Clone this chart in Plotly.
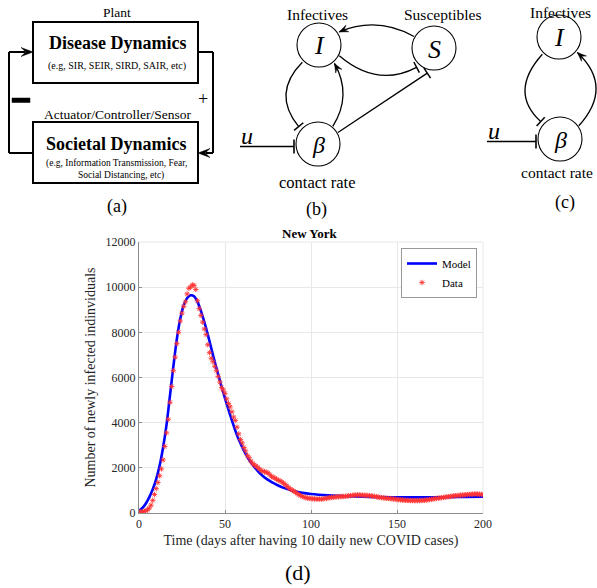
import math
import plotly.graph_objects as go

W, H = 597, 588

# ---------------- data ----------------
days = list(range(0, 201))
cases = [
    60, 40, 50, 80, 100, 140, 220, 350, 560, 820, 1080,
    1350, 1650, 1950, 2350, 2950, 3550, 4150, 4900, 5600, 6300,
    6900, 7500, 8000, 8500, 8850, 9150, 9350, 9700, 9950, 10000,
    10100, 10080, 9900, 9400, 9050, 8750, 8450, 8150, 7900, 7450,
    7100, 6850, 6700, 6500, 6300, 6050, 5800, 5550, 5450, 5300,
    5050, 4850, 4700, 4480, 4250, 4100, 3800, 3500, 3250, 3100,
    2900, 2750, 2550, 2450, 2300, 2200, 2130, 2080, 2020, 1950,
    1880, 1850, 1830, 1800, 1780, 1700, 1620, 1580, 1550, 1500,
    1450, 1420, 1380, 1320, 1260, 1180, 1120, 1060, 1020, 960,
    920, 860, 810, 770, 730, 700, 680, 660, 650, 640,
    630, 625, 620, 615, 620, 615, 625, 640, 650, 670,
    680, 690, 700, 710, 715, 720, 725, 730, 735, 740,
    750, 760, 770, 780, 790, 795, 800, 800, 795, 790,
    785, 780, 775, 765, 755, 745, 735, 720, 705, 690,
    680, 670, 660, 650, 645, 640, 630, 620, 610, 600,
    590, 580, 575, 570, 565, 560, 555, 550, 550, 548,
    548, 550, 552, 555, 560, 565, 575, 585, 595, 610,
    620, 635, 645, 655, 665, 680, 690, 700, 715, 725,
    735, 745, 755, 765, 770, 780, 790, 795, 800, 810,
    815, 820, 830, 835, 840, 845, 840, 830, 820, 810,
]
model_days = [0, 2, 4, 6, 8, 10, 12, 14, 16, 18, 20, 22, 24, 26, 28, 30, 32, 34, 36, 38,
              40, 42, 44, 46, 48, 50, 52, 54, 56, 58, 60, 62, 64, 66, 68, 70, 72, 74, 76, 78,
              80, 85, 90, 95, 100, 110, 120, 130, 140, 150, 160, 170, 180, 190, 200]
model_vals = [100, 220, 420, 700, 1050, 1500, 2100, 2900, 3900, 5200,
              6500, 7700, 8600, 9200, 9520, 9640, 9600, 9350, 8950, 8450,
              7900, 7300, 6700, 6150, 5600, 5080, 4580, 4100, 3650, 3250,
              2920, 2620, 2360, 2140, 1950, 1780, 1640, 1520, 1420, 1330,
              1250, 1090, 970, 890, 840, 780, 745, 720, 705, 695, 690, 695, 705, 715, 725]
x_ticks = [0, 50, 100, 150, 200]
y_ticks = [0, 2000, 4000, 6000, 8000, 10000, 12000]

# ------------- helpers (pixel -> paper) -------------
def px(x):
    return x / W


def py(y):
    return 1 - y / H


shapes = []
annotations = []
SERIF = "Liberation Serif"


def seg(x0, y0, x1, y1, w=1.3):
    shapes.append(dict(type="line", xref="paper", yref="paper", x0=px(x0), y0=py(y0),
                       x1=px(x1), y1=py(y1), line=dict(color="black", width=w)))


def box(x0, y0, x1, y1, w=2, fill=None):
    d = dict(type="rect", xref="paper", yref="paper", x0=px(x0), y0=py(y1),
             x1=px(x1), y1=py(y0), line=dict(color="black", width=w))
    if fill:
        d["fillcolor"] = fill
    shapes.append(d)


def circ(c, r):
    shapes.append(dict(type="circle", xref="paper", yref="paper",
                       x0=px(c[0] - r), x1=px(c[0] + r), y0=py(c[1] + r), y1=py(c[1] - r),
                       line=dict(color="black", width=1.1)))


def on(c, ang, r):
    a = math.radians(ang)
    return (c[0] + r * math.cos(a), c[1] - r * math.sin(a))


def qcurve(p0, c, p1, w=1.3):
    path = "M {},{} Q {},{} {},{}".format(px(p0[0]), py(p0[1]), px(c[0]), py(c[1]),
                                          px(p1[0]), py(p1[1]))
    shapes.append(dict(type="path", xref="paper", yref="paper", path=path,
                       line=dict(color="black", width=w)))


def unit(tip, frm):
    dx, dy = tip[0] - frm[0], tip[1] - frm[1]
    n = math.hypot(dx, dy)
    return dx / n, dy / n


def head(tip, frm, L=9, hw=3.6):
    ux, uy = unit(tip, frm)
    nx, ny = -uy, ux
    b1 = (tip[0] - L * ux + hw * nx, tip[1] - L * uy + hw * ny)
    b2 = (tip[0] - L * ux - hw * nx, tip[1] - L * uy - hw * ny)
    nt = (tip[0] - 0.6 * L * ux, tip[1] - 0.6 * L * uy)
    pts = [tip, b1, nt, b2]
    path = "M " + " L ".join("{},{}".format(px(p[0]), py(p[1])) for p in pts) + " Z"
    shapes.append(dict(type="path", xref="paper", yref="paper", path=path,
                       fillcolor="black", line=dict(color="black", width=0.5)))


def tbar(tip, frm, half=6, w=1.5):
    ux, uy = unit(tip, frm)
    nx, ny = -uy, ux
    seg(tip[0] + half * nx, tip[1] + half * ny, tip[0] - half * nx, tip[1] - half * ny, w)


def text(x, y, s, size, bold=False, italic=False, color="black", family=SERIF):
    if bold:
        s = "<b>" + s + "</b>"
    if italic:
        s = "<i>" + s + "</i>"
    annotations.append(dict(x=px(x), y=py(y), xref="paper", yref="paper", text=s,
                            showarrow=False, xanchor="center", yanchor="middle",
                            font=dict(family=family, size=size, color=color)))


# ---------------- diagram (a) ----------------
box(33, 22, 198, 83)
box(33, 122, 198, 183)
seg(33, 153, 9, 153, 2)
seg(9, 153, 9, 52, 2)
seg(9, 52, 25, 52, 2)
head((33, 52), (9, 52), L=12, hw=4.5)
seg(198, 52, 213, 52, 2)
seg(213, 52, 213, 153, 2)
seg(213, 153, 206, 153, 2)
head((198, 153), (213, 153), L=12, hw=4.5)
box(12, 98, 30, 102.5, w=0.5, fill="black")
text(117, 12, "Plant", 13.5)
text(118, 43, "Disease Dynamics", 18, bold=True)
text(117, 66, "(e.g, SIR, SEIR, SIRD, SAIR, etc)", 10)
text(117, 115, "Actuator/Controller/Sensor", 13.5)
text(116, 144, "Societal Dynamics", 18, bold=True)
text(116, 163, "(e.g, Information Transmission, Fear,", 9.5)
text(121, 175, "Social Distancing, etc)", 9.5)
text(203, 99, "+", 18)
text(117, 206, "(a)", 18)

# ---------------- diagram (b) ----------------
Ib, Sb, Bb = (319, 45), (434, 48), (318, 144)
R = 22
for c in (Ib, Sb, Bb):
    circ(c, R)
text(Ib[0], Ib[1] + 1, "I", 26, italic=True)
text(Sb[0], Sb[1] + 1, "S", 26, italic=True)
text(Bb[0], Bb[1] + 1, "β", 24, italic=True)
text(317, 14, "Infectives", 15.5)
text(443, 14, "Susceptibles", 15.5)
text(317, 182, "contact rate", 16.5)
text(316, 209, "(b)", 18)
# S -> I (top)
p0, cc, p1 = on(Sb, 150, R + 1), (377, 16), on(Ib, 33, R + 2)
qcurve(p0, cc, p1)
head(p1, cc)
# I -| S (bottom)
p0, cc, p1 = on(Ib, -28, R + 1), (377, 88), on(Sb, -132, R + 4)
qcurve(p0, cc, p1)
tbar(p1, cc)
# beta -| S (straight)
p0, p1 = on(Bb, 30, R + 1), on(Sb, -105, R + 4)
seg(p0[0], p0[1], p1[0], p1[1])
tbar(p1, p0)
# I -| beta (left arc)
p0, cc, p1 = on(Ib, 226, R + 2), (271.5, 93.6), on(Bb, 138, R + 4)
qcurve(p0, cc, p1)
tbar(p1, cc)
# beta -> I (right arc)
p0, cc, p1 = on(Bb, 50, R + 1), (352.4, 95.1), on(Ib, -50, R + 2)
qcurve(p0, cc, p1)
head(p1, cc)
# u -| beta
seg(240, 146.5, 294, 146.5, 1.6)
seg(294, 139.5, 294, 153.5, 1.6)
text(247, 136, "u", 24, italic=True)

# ---------------- diagram (c) ----------------
Ic, Bc = (559, 37), (560, 139)
circ(Ic, R)
circ(Bc, R)
text(Ic[0], Ic[1] + 1, "I", 26, italic=True)
text(Bc[0], Bc[1] + 1, "β", 24, italic=True)
text(560, 13, "Infectives", 15.5)
text(557, 172, "contact rate", 15.5)
text(565, 202, "(c)", 18)
p0, cc, p1 = on(Ic, 226, R + 2), (508.5, 92), on(Bc, 138, R + 4)
qcurve(p0, cc, p1)
tbar(p1, cc)
p0, cc, p1 = on(Bc, 35, R + 1), (614, 87), on(Ic, -40, R + 2)
qcurve(p0, cc, p1)
head(p1, cc)
seg(487, 141.5, 536, 141.5, 1.6)
seg(536, 134.5, 536, 148.5, 1.6)
text(494, 131, "u", 24, italic=True)

# ---------------- chart (d) ----------------
PL, PR, PT, PB = 139, 483, 242, 513
text(310, 233, "New York", 13, bold=True)
text(298, 572, "(d)", 22)
shapes.append(dict(type="line", xref="paper", yref="paper", x0=px(PL), x1=px(PR),
                   y0=py(PT), y1=py(PT), line=dict(color="#e8e8e8", width=1), layer="below"))
shapes.append(dict(type="line", xref="paper", yref="paper", x0=px(PR), x1=px(PR),
                   y0=py(PT), y1=py(PB), line=dict(color="#e8e8e8", width=1), layer="below"))

fig = go.Figure()
fig.add_trace(go.Scatter(x=model_days, y=model_vals, mode="lines", name="Model",
                         line=dict(color="#0000ff", width=2.6, shape="spline", smoothing=0.8)))
fig.add_trace(go.Scatter(x=days, y=cases, mode="markers", name="Data",
                         marker=dict(symbol="asterisk-open", size=4.5, color="#ff3333",
                                     line=dict(color="#ff3333", width=0.9))))

axis_common = dict(showgrid=True, gridcolor="#e8e8e8", gridwidth=1, showline=True,
                   linecolor="#8c8c8c", linewidth=1, ticks="inside", ticklen=3,
                   tickcolor="#8c8c8c", zeroline=False, automargin=False, tickformat="d",
                   tickfont=dict(family=SERIF, size=12, color="#262626"))
fig.update_layout(
    width=W, height=H, margin=dict(l=0, r=0, t=0, b=0, pad=0), autosize=False,
    paper_bgcolor="white", plot_bgcolor="white",
    shapes=shapes, annotations=annotations,
    xaxis=dict(domain=[px(PL), px(PR)], range=[0, 200], tickvals=x_ticks,
               title=dict(text="Time (days after having 10 daily new COVID cases)",
                          font=dict(family=SERIF, size=14, color="#262626"), standoff=4),
               **axis_common),
    yaxis=dict(domain=[py(PB), py(PT)], range=[0, 12000], tickvals=y_ticks,
               title=dict(text="Number of newly infected indinviduals",
                          font=dict(family=SERIF, size=14, color="#262626"), standoff=6),
               **axis_common),
    legend=dict(x=px(477), y=py(248), xanchor="right", yanchor="top",
                bgcolor="white", bordercolor="#999999", borderwidth=1,
                font=dict(family=SERIF, size=11, color="black"),
                itemwidth=30, tracegroupgap=0),
    showlegend=True,
)
fig.write_html("out.html", config={"displayModeBar": False},
               post_script="document.body.style.margin='0px';")
